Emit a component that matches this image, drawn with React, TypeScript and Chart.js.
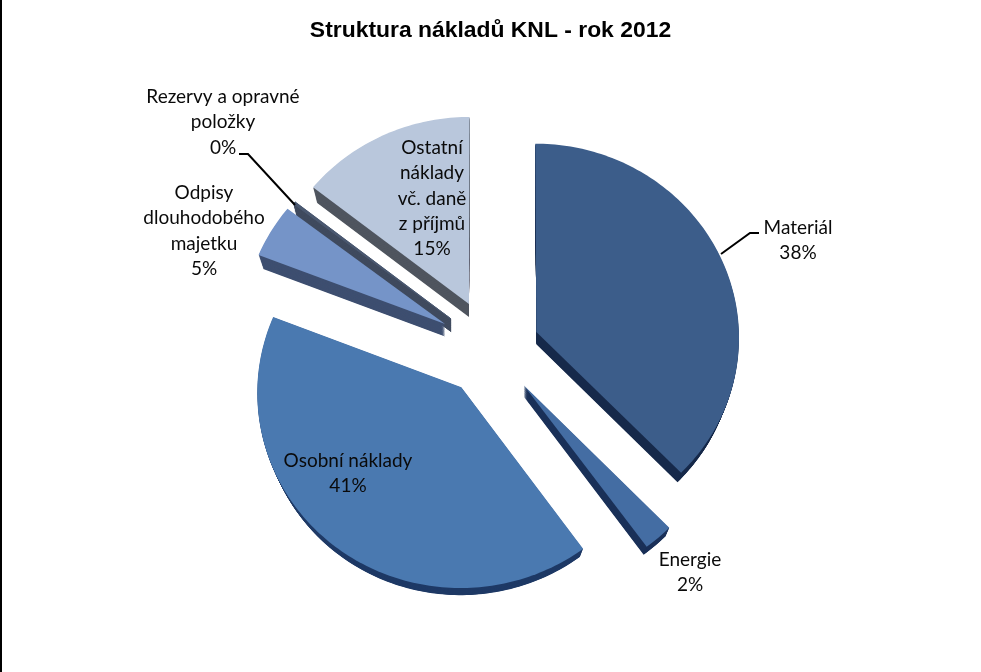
import React, { useEffect, useRef } from 'react';
import { Chart, registerables } from 'chart.js';

Chart.register(...registerables);

const categories = ['Materiál', 'Energie', 'Osobní náklady', 'Odpisy dlouhodobého majetku', 'Rezervy a opravné položky', 'Ostatní náklady vč. daně z příjmů'];
const values = [37.7, 2.3, 40.9, 4.5, 0.2, 14.4];
const explode = [48, 49, 50, 54, 52, 53];
const topColors = ['#3c5d8a', '#446da3', '#4a79b0', '#7594c8', '#4a5870', '#b9c7dc'];
const sideColors = ['#16294a', '#1a3058', '#1f3a66', '#3e4f70', '#3f4a5e', '#4f555f'];
const drawOrder = [5, 4, 3, 0, 1, 2];

const labelLines = [
  ['Materiál', '38%'],
  ['Energie', '2%'],
  ['Osobní náklady', '41%'],
  ['Odpisy', 'dlouhodobého', 'majetku', '5%'],
  ['Rezervy a opravné', 'položky', '0%'],
  ['Ostatní', 'náklady', 'vč. daně', 'z příjmů', '15%'],
];
// x centre and first baseline of each label
const labelAnchors = [[798, 234], [690, 566], [348, 467], [204, 199], [223, 103], [432, 154]];
const leaders = [
  [[721, 254], [750, 233], [759, 233]],
  [[295, 205], [248, 154], [239, 154]],
];

const tilt = 0.955;
const persp = 0.000122;
const pieShiftX = 1.5;

const pieFaces = {
  id: 'pieFaces',
  beforeDatasetsDraw(chart: any) {
    const { ctx } = chart;
    const arcs = chart.getDatasetMeta(0).data;
    // f = 0 is the top face, f = 1 the underside of the slab
    const project = (cx: number, cy: number, u: number, v: number, f: number) => {
      const w = 1 - persp * v;
      return [cx + pieShiftX + u / w, cy + (tilt * v) / w + f * (12 - 0.02 * v)];
    };
    const face = (arc: any, f: number) => {
      const { x, y, startAngle, endAngle, outerRadius } = arc.getProps(['x', 'y', 'startAngle', 'endAngle', 'outerRadius'], true);
      const mid = (startAngle + endAngle) / 2;
      const ox = Math.cos(mid) * arc.options.offset;
      const oy = Math.sin(mid) * arc.options.offset;
      const sweep = endAngle - startAngle;
      ctx.beginPath();
      const apex = project(x, y, ox, oy, f);
      ctx.moveTo(apex[0], apex[1]);
      const steps = Math.max(2, Math.ceil(sweep / 0.02));
      for (let i = 0; i <= steps; i++) {
        const a = startAngle + (sweep * i) / steps;
        // the underside pulls in sideways so the rim stays clean left and right
        const p = project(x, y, ox + Math.cos(a) * outerRadius * (1 - 0.025 * f), oy + Math.sin(a) * outerRadius, f);
        ctx.lineTo(p[0], p[1]);
      }
      ctx.closePath();
      ctx.fill();
      // thin slices need a stroke or the side band fades out
      if (sweep < 0.05) ctx.stroke();
    };
    ctx.save();
    ctx.lineWidth = 1;
    drawOrder.forEach((i) => {
      ctx.fillStyle = sideColors[i];
      ctx.strokeStyle = sideColors[i];
      for (let f = 1; f > 0; f -= 0.05) face(arcs[i], f);
      ctx.fillStyle = topColors[i];
      ctx.strokeStyle = topColors[i];
      face(arcs[i], 0);
    });
    ctx.restore();
    return false;
  },
  afterDraw(chart: any) {
    const { ctx } = chart;
    ctx.save();
    ctx.strokeStyle = '#000';
    ctx.lineWidth = 2;
    leaders.forEach((pts) => {
      ctx.beginPath();
      pts.forEach((p, i) => (i ? ctx.lineTo(p[0], p[1]) : ctx.moveTo(p[0], p[1])));
      ctx.stroke();
    });
    ctx.fillStyle = '#0a0a0a';
    ctx.font = '19px Lato';
    ctx.textAlign = 'center';
    labelLines.forEach((lines, i) => {
      lines.forEach((t, j) => ctx.fillText(t, labelAnchors[i][0], labelAnchors[i][1] + j * 25.3));
    });
    ctx.restore();
  },
};

export default function App() {
  const canvasRef = useRef<HTMLCanvasElement>(null);
  useEffect(() => {
    const chart = new Chart(canvasRef.current!, {
      type: 'pie',
      data: {
        labels: categories,
        datasets: [{ data: values, offset: explode, backgroundColor: topColors, borderWidth: 0 }],
      },
      options: {
        responsive: false,
        animation: false,
        radius: 203,
        layout: { padding: { bottom: 18 } },
        plugins: {
          legend: { display: false },
          tooltip: { enabled: false },
          title: {
            display: true,
            text: 'Struktura nákladů KNL - rok 2012',
            color: '#000',
            font: { family: '"Liberation Sans"', size: 22.9, weight: 'bold' },
            padding: { top: 17, bottom: 0 },
          },
        },
      } as any,
      plugins: [pieFaces],
    });
    return () => chart.destroy();
  }, []);
  return (
    <div style={{ position: 'absolute', left: 0, top: 0, width: 981, height: 672, background: '#fff' }}>
      <canvas ref={canvasRef} width={981} height={672} aria-label="Struktura nákladů KNL - rok 2012" />
      <div style={{ position: 'absolute', left: 0, top: 0, width: 2, height: 672, background: '#000' }} />
    </div>
  );
}
